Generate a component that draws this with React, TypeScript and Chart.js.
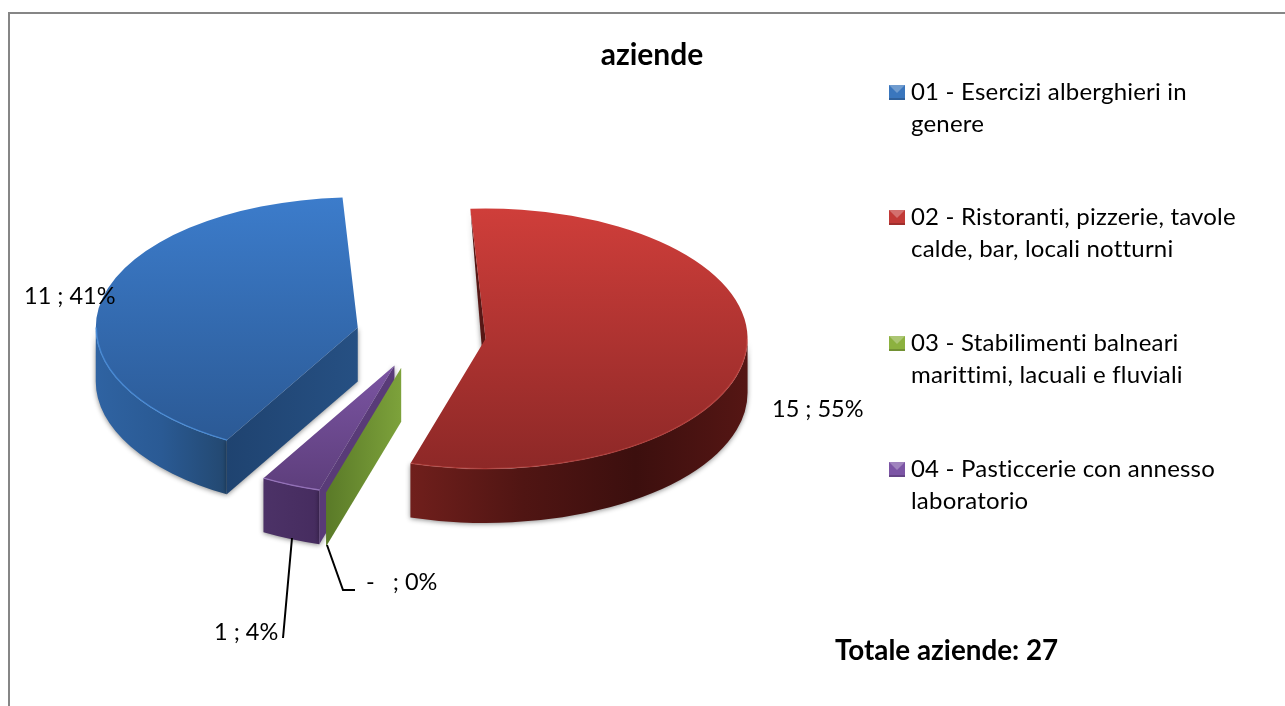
import React, { useEffect, useRef } from "react";
import { Chart, registerables } from "chart.js";

Chart.register(...registerables);

const categories = [
  "01 - Esercizi alberghieri in genere",
  "02 - Ristoranti, pizzerie, tavole calde, bar, locali notturni",
  "03 - Stabilimenti balneari marittimi, lacuali e fluviali",
  "04 - Pasticcerie con annesso laboratorio",
];
const legendLines = [
  ["01 - Esercizi alberghieri in", "genere"],
  ["02 - Ristoranti, pizzerie, tavole", "calde, bar, locali notturni"],
  ["03 - Stabilimenti balneari", "marittimi, lacuali e fluviali"],
  ["04 - Pasticcerie con annesso", "laboratorio"],
];
const values = [11, 15, 0, 1];
const valueText = ["11", "15", "-  ", "1"];
const percentText = ["41%", "55%", "0%", "4%"];
const chartTitle = "aziende";
const totalText = "Totale aziende: 27";

const explode = [65, 65, 69, 67];
const topLight = ["#3c7ccb", "#cf3e3a", "#9bbb59", "#9a6ccb"];
const topDark = ["#2a5791", "#8d2827", "#6d8f30", "#5c3d7a"];
const rimColor = ["rgba(74,143,220,0.8)", "rgba(220,90,84,0.35)", "#9bbb59", "rgba(159,124,198,0.8)"];
const faceStops = [
  ["#1f4370", "#265083"],
  ["#571715", "#571715"],
  ["#5a7a28", "#7da23b"],
  ["#593b78", "#593b78"],
];
const wallStops = [
  ["#2f63a2", "#2a5a94", "#234870"],
  ["#701f1c", "#501513", "#3c0f0e", "#551614"],
  ["#5a7a28", "#5a7a28"],
  ["#4c3267", "#462c5f"],
];
const legendColor = ["#3a76bd", "#c23a37", "#8cb13f", "#7c55a5"];
const drawOrder = [0, 1, 3, 2];

const K = 0.497;
const DEPTH = 54;
const RADIUS = 262;
const FONT = "Lato, Carlito, sans-serif";
const TAU = Math.PI * 2;

function linear(ctx: CanvasRenderingContext2D, x0: number, x1: number, stops: string[]) {
  const g = ctx.createLinearGradient(x0, 0, x1, 0);
  stops.forEach((c, i) => g.addColorStop(stops.length > 1 ? i / (stops.length - 1) : 0, c));
  return g;
}

function setShadow(ctx: CanvasRenderingContext2D, on: boolean) {
  ctx.shadowColor = on ? "rgba(0,0,0,0.45)" : "transparent";
  ctx.shadowBlur = on ? 5 : 0;
  ctx.shadowOffsetX = 0;
  ctx.shadowOffsetY = on ? 1 : 0;
}

const pie3d = {
  id: "pie3d",
  beforeDatasetDraw(chart: any) {
    const ctx: CanvasRenderingContext2D = chart.ctx;
    const arcs = chart.getDatasetMeta(0).data;
    const apexes = arcs.map((el: any, i: number) => {
      const mid = (el.startAngle + el.endAngle) / 2;
      return { x: el.x + Math.cos(mid) * explode[i], y: el.y + Math.sin(mid) * explode[i] * K };
    });
    const rimPoint = (a: { x: number; y: number }, r: number, ang: number) => ({
      x: a.x + Math.cos(ang) * r,
      y: a.y + Math.sin(ang) * r * K,
    });

    const face = (i: number, ang: number) => {
      const el = arcs[i];
      const a = apexes[i];
      const p = rimPoint(a, el.outerRadius, ang);
      const back = Math.sin(ang) < 0;
      ctx.beginPath();
      ctx.moveTo(a.x, a.y);
      ctx.lineTo(p.x, p.y);
      if (!back) ctx.lineTo(p.x, p.y + DEPTH);
      ctx.lineTo(a.x, a.y + DEPTH);
      ctx.closePath();
      ctx.fillStyle = linear(ctx, Math.min(a.x, p.x), Math.max(a.x, p.x), faceStops[i]);
      ctx.fill();
    };

    const wall = (i: number) => {
      const el = arcs[i];
      const a = apexes[i];
      const r = el.outerRadius;
      let s = el.startAngle;
      let e = el.endAngle;
      if (e > TAU) {
        s -= TAU;
        e -= TAU;
      }
      const from = Math.max(s, 0);
      const to = Math.min(e, Math.PI);
      if (to <= from) return null;
      ctx.beginPath();
      ctx.ellipse(a.x, a.y, r, r * K, 0, from, to);
      ctx.ellipse(a.x, a.y + DEPTH, r, r * K, 0, to, from, true);
      ctx.closePath();
      const xa = rimPoint(a, r, from).x;
      const xb = rimPoint(a, r, to).x;
      ctx.fillStyle = linear(ctx, Math.min(xa, xb), Math.max(xa, xb), wallStops[i]);
      ctx.fill();
      return { from, to };
    };

    drawOrder.forEach((i) => {
      const el = arcs[i];
      const a = apexes[i];
      ctx.save();
      if (values[i] === 0) {
        face(i, el.startAngle);
        ctx.restore();
        return;
      }
      setShadow(ctx, true);
      const span = wall(i);
      face(i, el.startAngle);
      setShadow(ctx, false);
      ctx.save();
      ctx.translate(a.x, a.y);
      ctx.scale(1, K);
      ctx.translate(-el.x, -el.y);
      el.draw(ctx);
      ctx.restore();
      if (span) {
        ctx.beginPath();
        ctx.ellipse(a.x, a.y, el.outerRadius - 0.5, (el.outerRadius - 0.5) * K, 0, span.from, span.to);
        ctx.strokeStyle = rimColor[i];
        ctx.lineWidth = 1.5;
        ctx.stroke();
      }
      ctx.restore();
    });
    return false;
  },
  afterDraw(chart: any) {
    const ctx: CanvasRenderingContext2D = chart.ctx;
    ctx.save();
    // frame
    ctx.fillStyle = "#868686";
    ctx.fillRect(8, 12, 1277, 2);
    ctx.fillRect(8, 12, 2, 694);

    ctx.fillStyle = "#000";
    ctx.textBaseline = "middle";
    ctx.textAlign = "left";

    // title and total
    ctx.font = `bold 30px ${FONT}`;
    ctx.textAlign = "center";
    ctx.fillText(chartTitle, 652, 55);
    ctx.textAlign = "left";
    ctx.font = `bold 27.8px ${FONT}`;
    ctx.fillText(totalText, 835, 651);

    // legend
    const rows = [92, 217, 343, 469];
    ctx.font = `24px ${FONT}`;
    (ctx as any).letterSpacing = "0.2px";
    legendLines.forEach((lines, i) => {
      const y = rows[i];
      ctx.fillStyle = legendColor[i];
      ctx.fillRect(889, y - 7, 16, 15);
      ctx.fillStyle = "rgba(255,255,255,0.28)";
      ctx.beginPath();
      ctx.moveTo(889, y - 7);
      ctx.lineTo(905, y - 7);
      ctx.lineTo(897, y + 1);
      ctx.closePath();
      ctx.fill();
      ctx.fillStyle = "rgba(0,0,0,0.18)";
      ctx.fillRect(889, y + 6, 16, 2);
      ctx.fillStyle = "#000";
      lines.forEach((t, j) => ctx.fillText(t, 911, y + j * 32));
    });
    (ctx as any).letterSpacing = "0px";

    // point labels
    ctx.font = `23.5px ${FONT}`;
    const labelPos = [
      [24, 296],
      [772, 409],
      [366, 582],
      [214, 632],
    ];
    values.forEach((_, i) => {
      ctx.fillText(`${valueText[i]} ; ${percentText[i]}`, labelPos[i][0], labelPos[i][1]);
    });

    // leader lines
    ctx.strokeStyle = "#000";
    ctx.lineWidth = 2;
    ctx.beginPath();
    ctx.moveTo(292, 538);
    ctx.lineTo(283, 638);
    ctx.moveTo(327, 545);
    ctx.lineTo(343, 590);
    ctx.lineTo(355, 590);
    ctx.stroke();
    ctx.restore();
  },
};

export default function App() {
  const ref = useRef<HTMLCanvasElement>(null);
  useEffect(() => {
    const canvas = ref.current;
    if (!canvas) return;
    const ctx2d = canvas.getContext("2d")!;
    const topGradient = (i: number) => {
      const cy = 335;
      const g = ctx2d.createLinearGradient(0, cy - RADIUS, 0, cy + RADIUS);
      g.addColorStop(0, topLight[i]);
      g.addColorStop(1, topDark[i]);
      return g;
    };
    const chart = new Chart(canvas, {
      type: "pie",
      data: {
        labels: categories,
        datasets: [
          {
            data: values,
            backgroundColor: values.map((_, i) => topGradient(i)),
            borderWidth: 0,
            offset: 0,
            clip: false,
          } as any,
        ],
      },
      options: {
        responsive: false,
        animation: false,
        events: [],
        rotation: 210,
        radius: RADIUS,
        layout: { padding: { left: 0, right: 443, top: 0, bottom: 36 } },
        plugins: { legend: { display: false }, tooltip: { enabled: false }, title: { display: false } },
      } as any,
      plugins: [pie3d as any],
    });
    return () => chart.destroy();
  }, []);
  return (
    <div style={{ position: "fixed", left: 0, top: 0, width: 1285, height: 706, background: "#fff" }}>
      <canvas ref={ref} width={1285} height={706} style={{ display: "block" }} />
    </div>
  );
}
